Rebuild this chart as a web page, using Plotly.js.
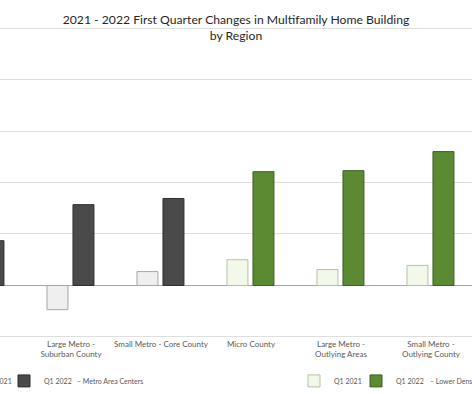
<!DOCTYPE html>
<html>
<head>
<meta charset="utf-8">
<script src="https://cdn.plot.ly/plotly-3.0.1.min.js"></script>
<style>
  html, body { margin: 0; padding: 0; background: #ffffff; overflow: hidden; }
  #chart { width: 472px; height: 394px; }
</style>
</head>
<body>
<div id="chart"></div>
<script>
// Category labels (tick text) and their positions on the category axis
const categoryLabels = [
  "Large Metro -<br>Core County",
  "Large Metro -<br>Suburban County",
  "Small Metro - Core County",
  "Micro County",
  "Large Metro -<br>Outlying Areas",
  "Small Metro -<br>Outlying County"
];
const categoryIndex = [0, 1, 2, 3, 4, 5];

// Metro Area Centers (first three categories)
const metroIndex = [0, 1, 2];
const metroQ1_2021 = [3.0, -4.7, 2.7];
const metroQ1_2022 = [8.7, 15.7, 16.9];

// Lower Density (last three categories)
const lowerIndex = [3, 4, 5];
const lowerQ1_2021 = [5.0, 3.1, 3.9];
const lowerQ1_2022 = [22.1, 22.3, 26.0];

const seriesNames = ["Q1 2021", "Q1 2022"];
const groupNotes = ["– Metro Area Centers", "– Lower Density Areas"];

const barW = 0.233;
const off2021 = -0.267;
const off2022 = 0.022;

const traces = [
  {
    type: "bar", name: seriesNames[0], x: metroIndex, y: metroQ1_2021,
    width: barW, offset: off2021, legend: "legend",
    marker: { color: "#efefef", line: { color: "#a6a6a6", width: 1 } }
  },
  {
    type: "bar", name: seriesNames[1], x: metroIndex, y: metroQ1_2022,
    width: barW, offset: off2022, legend: "legend2",
    marker: { color: "#4a4a4a", line: { color: "#2e2e2e", width: 1 } }
  },
  {
    type: "bar", name: seriesNames[0], x: lowerIndex, y: lowerQ1_2021,
    width: barW, offset: off2021, legend: "legend3",
    marker: { color: "#f3f9ea", line: { color: "#b3c2a3", width: 1 } }
  },
  {
    type: "bar", name: seriesNames[1], x: lowerIndex, y: lowerQ1_2022,
    width: barW, offset: off2022, legend: "legend4",
    marker: { color: "#5b8a33", line: { color: "#3d5e22", width: 1 } }
  }
];

const legendFont = { family: "Lato, 'Open Sans', sans-serif", size: 7, color: "#595959" };
const legendY = -0.138;

function makeLegend(textStartPx) {
  return {
    orientation: "h", x: (textStartPx - 40) / 472, xanchor: "left",
    y: legendY, yanchor: "middle", xref: "paper", yref: "paper",
    font: legendFont, bgcolor: "rgba(0,0,0,0)", itemwidth: 30
  };
}

const layout = {
  width: 472, height: 394,
  margin: { l: 0, r: 0, t: 27, b: 56, autoexpand: false },
  paper_bgcolor: "#ffffff", plot_bgcolor: "#ffffff",
  barmode: "overlay",
  showlegend: true,
  title: {
    text: "2021 - 2022 First Quarter Changes in Multifamily Home Building<br>by Region",
    font: { family: "Lato, 'Open Sans', sans-serif", size: 12.2, color: "#262626" },
    x: 0.5, xanchor: "center", xref: "container",
    y: 0.94, yanchor: "top", yref: "container"
  },
  xaxis: {
    type: "linear",
    range: [0.2111, 5.4556],
    tickmode: "array", tickvals: categoryIndex, ticktext: categoryLabels,
    showgrid: false, zeroline: false, showline: false, ticks: "",
    tickfont: { family: "Lato, 'Open Sans', sans-serif", size: 8, color: "#595959" },
    tickangle: 0, fixedrange: true
  },
  yaxis: {
    range: [-10.2, 50.2], dtick: 10, tick0: 0,
    showticklabels: false, ticks: "",
    showgrid: true, gridcolor: "#dedede", gridwidth: 1,
    zeroline: true, zerolinecolor: "#a6a6a6", zerolinewidth: 1,
    showline: false, fixedrange: true
  },
  legend: makeLegend(-16),
  legend2: makeLegend(44),
  legend3: makeLegend(334),
  legend4: makeLegend(396),
  annotations: [
    {
      text: groupNotes[0], xref: "paper", yref: "paper",
      x: 75 / 472, xanchor: "left", y: legendY, yanchor: "middle",
      showarrow: false, font: legendFont
    },
    {
      text: groupNotes[1], xref: "paper", yref: "paper",
      x: 428 / 472, xanchor: "left", y: legendY, yanchor: "middle",
      showarrow: false, font: legendFont
    }
  ]
};

Plotly.newPlot("chart", traces, layout, { displayModeBar: false, staticPlot: true });
</script>
</body>
</html>
